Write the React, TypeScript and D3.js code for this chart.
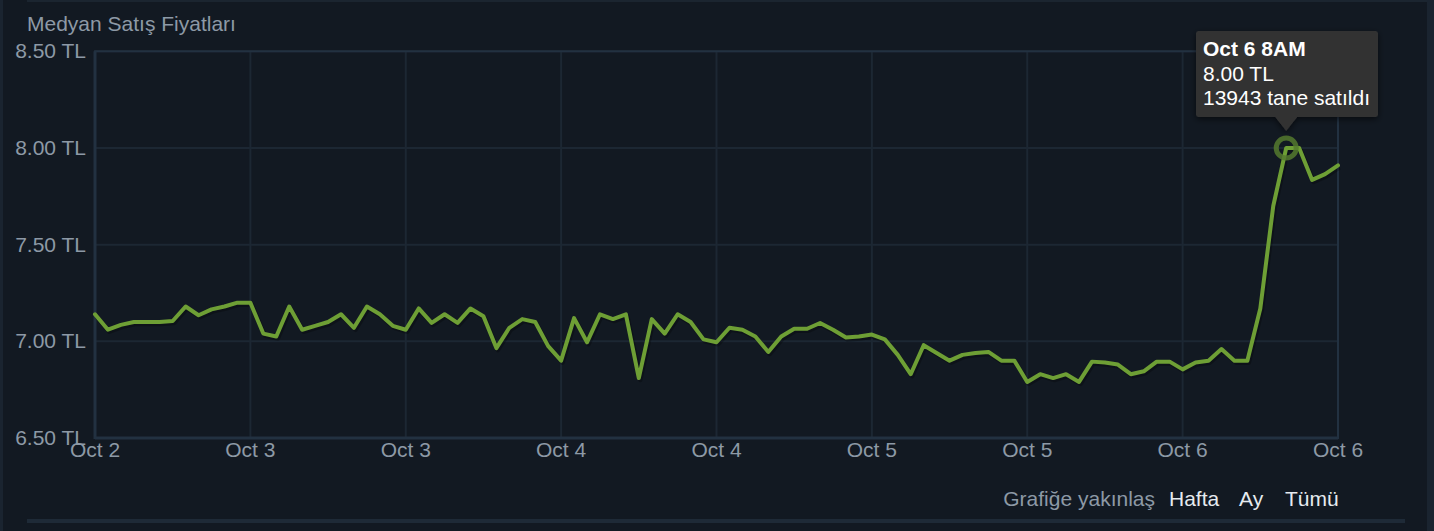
import React from "react";
import * as d3 from "d3";

// ---- data ----
const startTime = new Date(2023, 9, 2, 12, 0, 0); // Oct 2, 12PM, hourly samples
const prices: number[] = [
  7.14, 7.06, 7.085, 7.1, 7.1, 7.1, 7.105, 7.18, 7.135, 7.165,
  7.18, 7.2, 7.2, 7.04, 7.025, 7.18, 7.06, 7.08, 7.1, 7.14,
  7.07, 7.18, 7.14, 7.08, 7.06, 7.17, 7.095, 7.14, 7.095, 7.17,
  7.13, 6.965, 7.07, 7.115, 7.1, 6.975, 6.9, 7.12, 6.995, 7.14,
  7.115, 7.14, 6.81, 7.115, 7.04, 7.14, 7.1, 7.01, 6.995, 7.07,
  7.06, 7.025, 6.945, 7.025, 7.065, 7.065, 7.095, 7.06, 7.02, 7.025,
  7.035, 7.01, 6.93, 6.83, 6.98, 6.94, 6.9, 6.93, 6.94, 6.945,
  6.9, 6.9, 6.79, 6.83, 6.81, 6.83, 6.79, 6.895, 6.89, 6.88,
  6.83, 6.845, 6.895, 6.895, 6.855, 6.89, 6.9, 6.96, 6.9, 6.9,
  7.17, 7.7, 8.0, 8.0, 7.835, 7.865, 7.91,
];
const yTickValues = [6.5, 7.0, 7.5, 8.0, 8.5];
const yDomain: [number, number] = [6.5, 8.5];
const chartTitle = "Medyan Satış Fiyatları";
const highlightIndex = 92;
const tooltipLines = ["Oct 6 8AM", "8.00 TL", "13943 tane satıldı"];
const zoomLabel = "Grafiğe yakınlaş";
const zoomLinks = ["Hafta", "Ay", "Tümü"];

// ---- layout ----
const W = 1434;
const H = 531;
const L = 95;
const R = 1338;
const T = 51.3;
const B = 438;
const FS = 21;
const FONT = "Arial, 'Liberation Sans', Helvetica, sans-serif";
const BG = "#121922";
const GRID = "#1c2733";
const AXIS = "#223141";
const TEXT = "#8d99a6";
const LINE = "#6e9f35";

export default function App() {
  const dates = prices.map((_, i) => d3.timeHour.offset(startTime, i));
  const x = d3
    .scaleTime()
    .domain([dates[0], dates[dates.length - 1]])
    .range([L, R]);
  const y = d3.scaleLinear().domain(yDomain).range([B, T]);
  const xTicks = d3.timeHour.every(12)!.range(dates[0], d3.timeHour.offset(dates[dates.length - 1], 1));
  const fmt = d3.timeFormat("%b %-d");
  const fmtY = (v: number) => `${v.toFixed(2)} TL`;

  const line = d3
    .line<number>()
    .x((_, i) => x(dates[i]))
    .y((d) => y(d));
  const path = line(prices) || "";

  const hx = x(dates[highlightIndex]);
  const hy = y(prices[highlightIndex]);
  const tipW = 182;
  const tipH = 86;
  const tipX = 1196;
  const tipY = 31;

  return (
    <svg
      width={W}
      height={H}
      style={{ position: "absolute", left: 0, top: 0, display: "block", background: BG }}
      fontFamily={FONT}
    >
      <defs>
        <filter id="tipShadow" x="-20%" y="-20%" width="140%" height="150%">
          <feDropShadow dx="0" dy="2" stdDeviation="3" floodColor="#000" floodOpacity="0.6" />
        </filter>
      </defs>
      <rect x={0} y={0} width={W} height={H} fill={BG} />
      {/* frame strips */}
      <rect x={0} y={0} width={3} height={H} fill="#1a2430" />
      <rect x={27} y={0} width={W - 27} height={2} fill="#1b2530" />
      <rect x={27} y={519} width={1378} height={4} fill="#1e2a37" />
      <rect x={1427} y={0} width={7} height={H} fill="#1a2430" />

      {/* title */}
      <text x={27} y={31} fontSize={FS} fill={TEXT}>
        {chartTitle}
      </text>

      {/* grid */}
      {yTickValues.map((v) => (
        <line key={"gy" + v} x1={L} x2={R} y1={y(v)} y2={y(v)} stroke={GRID} strokeWidth={2} />
      ))}
      {xTicks.map((d, i) => (
        <line key={"gx" + i} x1={x(d)} x2={x(d)} y1={T} y2={B} stroke={GRID} strokeWidth={2} />
      ))}
      {/* borders */}
      <rect x={L} y={T} width={R - L} height={B - T} fill="none" stroke={AXIS} strokeWidth={2} />
      <line x1={L} x2={L} y1={T} y2={B + 1} stroke={AXIS} strokeWidth={3} />
      <line x1={L} x2={R} y1={B} y2={B} stroke={AXIS} strokeWidth={3} />

      {/* y tick labels */}
      {yTickValues.map((v) => (
        <text key={"ty" + v} x={86} y={y(v) + 7} textAnchor="end" fontSize={FS} fill={TEXT}>
          {fmtY(v)}
        </text>
      ))}
      {/* x tick labels */}
      {xTicks.map((d, i) => (
        <text key={"tx" + i} x={x(d)} y={457} textAnchor="middle" fontSize={FS} fill={TEXT}>
          {fmt(d)}
        </text>
      ))}

      {/* line shadow + line */}
      <path
        d={path}
        transform="translate(1.5,2)"
        fill="none"
        stroke="#000"
        strokeOpacity={0.25}
        strokeWidth={4.5}
        strokeLinejoin="round"
      />
      <path d={path} fill="none" stroke={LINE} strokeWidth={4} strokeLinejoin="round" strokeLinecap="round" />

      {/* highlight marker */}
      <circle cx={hx} cy={hy} r={10} fill="none" stroke="#557a2e" strokeOpacity={0.85} strokeWidth={5} />

      {/* tooltip */}
      <g filter="url(#tipShadow)">
        <rect x={tipX} y={tipY} width={tipW} height={tipH} rx={3} fill="#333333" />
        <path d={`M${hx - 11},${tipY + tipH} L${hx + 11},${tipY + tipH} L${hx},${tipY + tipH + 14} Z`} fill="#333333" />
      </g>
      {tooltipLines.map((t, i) => (
        <text
          key={"tt" + i}
          x={tipX + 7}
          y={tipY + 25 + i * 24.5}
          fontSize={FS}
          fontWeight={i === 0 ? "bold" : "normal"}
          fill="#ffffff"
        >
          {t}
        </text>
      ))}

      {/* zoom controls */}
      <text x={1155} y={506} textAnchor="end" fontSize={FS} fill={TEXT}>
        {zoomLabel}
      </text>
      <text x={1169} y={506} fontSize={FS} fill="#e6ebef">
        {zoomLinks[0]}
      </text>
      <text x={1239} y={506} fontSize={FS} fill="#e6ebef">
        {zoomLinks[1]}
      </text>
      <text x={1285} y={506} fontSize={FS} fill="#e6ebef">
        {zoomLinks[2]}
      </text>
    </svg>
  );
}
